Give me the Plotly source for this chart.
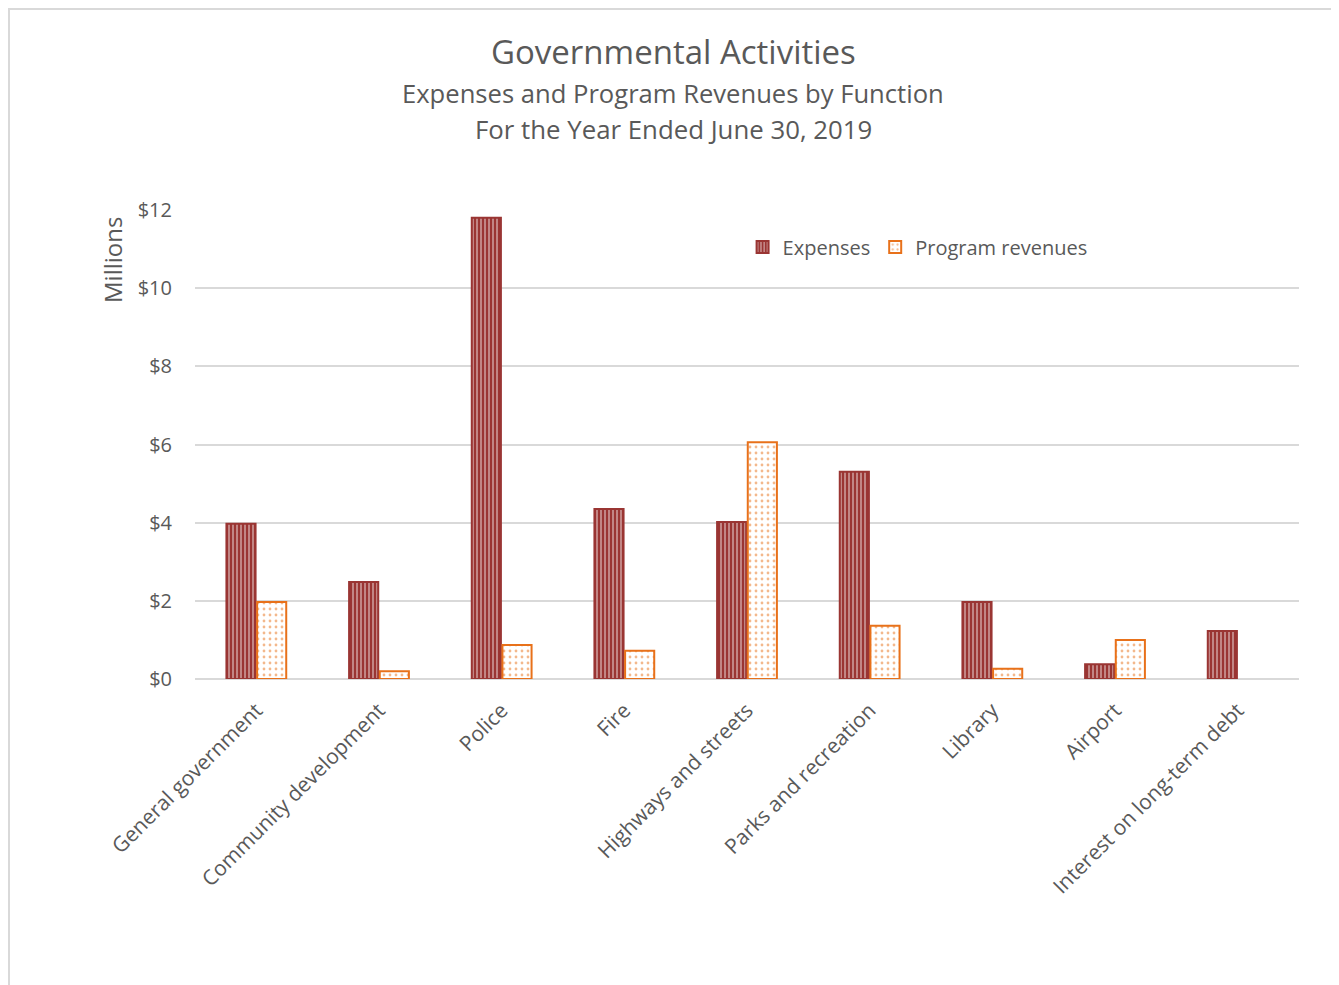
import plotly.graph_objects as go

categories = ["General government", "Community development", "Police", "Fire",
              "Highways and streets", "Parks and recreation", "Library", "Airport",
              "Interest on long-term debt"]
expenses = [3.97, 2.48, 11.80, 4.35, 4.02, 5.30, 1.97, 0.38, 1.23]
program_revenues = [1.97, 0.20, 0.87, 0.72, 6.06, 1.36, 0.26, 1.00, None]
y_ticks = [0, 2, 4, 6, 8, 10, 12]
y_tick_labels = ["$0", "$2", "$4", "$6", "$8", "$10", "$12"]

RED = "#9A3533"
ORANGE = "#E8711A"
GRAY = "#595959"
FONT = "Open Sans"

fig = go.Figure()
fig.add_trace(go.Bar(
    name="Expenses", x=categories, y=expenses,
    marker=dict(color=RED, line=dict(color=RED, width=2),
                pattern=dict(shape="|", fgcolor="white", size=4, solidity=0.4,
                             fillmode="overlay")),
))
fig.add_trace(go.Bar(
    name="Program revenues", x=categories, y=program_revenues,
    marker=dict(color="white", line=dict(color=ORANGE, width=2),
                pattern=dict(shape=".", fgcolor=ORANGE, bgcolor="white", size=6, solidity=0.17)),
))

fig.update_layout(
    width=1339, height=985,
    margin=dict(l=187, r=48, t=202, b=314),
    paper_bgcolor="white", plot_bgcolor="white",
    font=dict(family=FONT, color=GRAY),
    barmode="group", bargap=0.5, bargroupgap=0.05,
    showlegend=True,
    legend=dict(orientation="h", x=0.496, y=0.921, xanchor="left", yanchor="middle",
                font=dict(size=20, color=GRAY, family=FONT), bgcolor="rgba(0,0,0,0)",
                itemwidth=30, traceorder="normal"),
    xaxis=dict(tickangle=-45, tickfont=dict(size=21, color=GRAY, family=FONT),
               showgrid=False, showline=False, ticks="", ticklabelstandoff=14),
    yaxis=dict(range=[0, 12], tickvals=y_ticks, ticktext=y_tick_labels,
               tickfont=dict(size=20, color=GRAY, family=FONT),
               showgrid=True, gridcolor="#D9D9D9", gridwidth=1.5,
               zeroline=True, zerolinecolor="#D9D9D9", zerolinewidth=1.5,
               showline=False, ticks="", ticklabelstandoff=22),
)

fig.add_annotation(text="Governmental Activities", xref="paper", yref="paper",
                   x=0.4334, y=(679 - 52) / 469, xanchor="center", yanchor="middle",
                   showarrow=False, font=dict(size=33, color=GRAY, family=FONT))
fig.add_annotation(text="Expenses and Program Revenues by Function", xref="paper", yref="paper",
                   x=0.4334, y=(679 - 93) / 469, xanchor="center", yanchor="middle",
                   showarrow=False, font=dict(size=25.6, color=GRAY, family=FONT))
fig.add_annotation(text="For the Year Ended June 30, 2019", xref="paper", yref="paper",
                   x=0.4334, y=(679 - 129) / 469, xanchor="center", yanchor="middle",
                   showarrow=False, font=dict(size=25.8, color=GRAY, family=FONT))
fig.add_annotation(text="Millions", xref="paper", yref="paper",
                   x=(112 - 195) / 1104, y=(679 - 260) / 469, xanchor="center", yanchor="middle",
                   textangle=-90, showarrow=False, font=dict(size=24, color=GRAY, family=FONT))

fig.add_shape(type="rect", xref="paper", yref="paper",
              x0=(1 - 187) / 1104, x1=(1345 - 195) / 1104,
              y0=(679 - 990) / 469, y1=(679 - 9) / 469,
              line=dict(color="#D9D9D9", width=2), fillcolor="rgba(0,0,0,0)", layer="below")

fig.write_html("out.html")
